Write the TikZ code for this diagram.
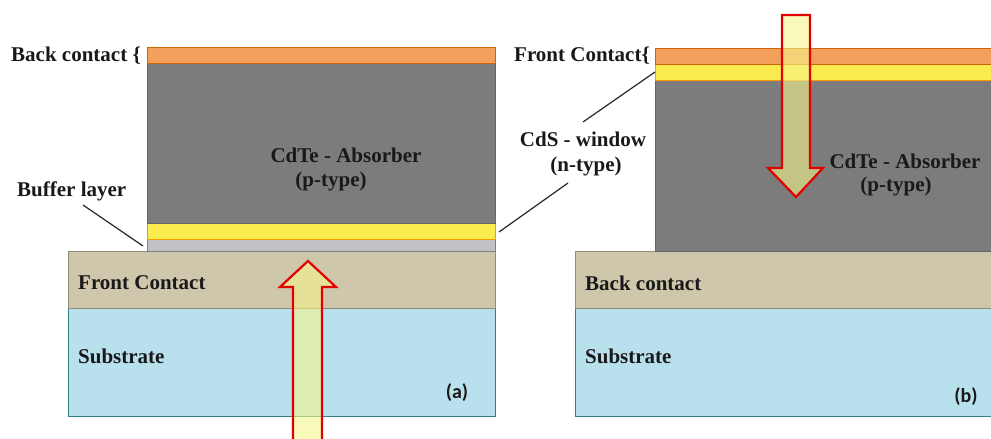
\documentclass[tikz,border=0pt]{standalone}
\usepackage{fontspec}
\setmainfont{Liberation Serif}
\newfontfamily\layerfont{Liberation Serif}[BoldFont={Liberation Serif Bold}]
\newfontfamily\tagfont{Carlito}[BoldFont={Carlito Bold}]
\usepackage{xcolor}
\usetikzlibrary{positioning}

\definecolor{contactorange}{RGB}{243,160,92}
\definecolor{absorbergray}{RGB}{124,124,124}
\definecolor{cdsyellow}{RGB}{250,236,78}
\definecolor{buffergray}{RGB}{192,192,198}
\definecolor{contacttan}{RGB}{207,199,172}
\definecolor{substrateblue}{RGB}{185,224,237}
\definecolor{beamyellow}{RGB}{245,245,140}

\begin{document}
\begin{tikzpicture}[
    x=1pt, y=-1pt,
    layer/.style={line width=0.6pt},
    lbl/.style={font=\layerfont\fontsize{21}{24}\selectfont\bfseries, text=black!90, inner sep=0pt},
    tag/.style={font=\tagfont\fontsize{20}{24}\selectfont\bfseries, text=black!90, inner sep=0pt},
    leader/.style={line width=1.2pt, black!85},
    beam/.style={draw=red!90!black, line width=2.2pt, fill=beamyellow, fill opacity=0.6, line join=miter}
]
    \useasboundingbox (0,0) rectangle (991,439);
    \clip (0,0) rectangle (991,439);

    % Left cell (a): superstrate layers
    \filldraw[layer, fill=substrateblue, draw=teal!60!gray] (68,308) rectangle (495,416);
    \filldraw[layer, fill=contacttan, draw=contacttan!70!black] (68,251) rectangle (495,308);
    \filldraw[layer, fill=buffergray, draw=gray] (147,239) rectangle (495,251);
    \filldraw[layer, fill=cdsyellow, draw=orange!80!yellow] (147,223) rectangle (495,239);
    \filldraw[layer, fill=absorbergray, draw=black!60] (147,63) rectangle (495,223);
    \filldraw[layer, fill=contactorange, draw=orange!80!black] (147,47) rectangle (495,63);

    % Right cell (b): substrate layers
    \filldraw[layer, fill=substrateblue, draw=teal!60!gray] (575,308) rectangle (999,416);
    \filldraw[layer, fill=contacttan, draw=contacttan!70!black] (575,251) rectangle (999,308);
    \filldraw[layer, fill=absorbergray, draw=black!60] (655,80) rectangle (999,251);
    \filldraw[layer, fill=cdsyellow, draw=orange!80!yellow] (655,64) rectangle (999,80);
    \filldraw[layer, fill=contactorange, draw=orange!80!black] (655,48) rectangle (999,64);

    % Light entering
    \filldraw[beam] (293,450) -- (293,287) -- (280,287) -- (308,261) -- (336,287)
        -- (322,287) -- (322,450) -- cycle;
    \filldraw[beam] (782,15) -- (810,15) -- (810,168) -- (823,168) -- (796,197)
        -- (768,168) -- (782,168) -- cycle;

    % Labels, left
    \node[lbl, anchor=west] (backa) at (11,56) {Back contact \{};
    \node[lbl, anchor=west] (bufl) at (17,191) {Buffer layer};
    \node[lbl] (absa) at (346,155) {CdTe - Absorber};
    \node[lbl] (absap) at (331,181) {(p-type)};
    \node[lbl, anchor=west] (fronta) at (78,283) {Front Contact};
    \node[lbl, anchor=west] (suba) at (78,356) {Substrate};
    \node[tag] (taga) at (457,393) {(a)};

    % Labels, middle and right
    \node[lbl] (cds) at (583,139) {CdS - window};
    \node[lbl] (cdsn) at (586,166) {(n-type)};
    \node[lbl, anchor=west] (frontb) at (514,56) {Front Contact\{};
    \node[lbl] (absb) at (905,161) {CdTe - Absorber};
    \node[lbl] (absbp) at (896,186) {(p-type)};
    \node[lbl, anchor=west] (backb) at (585,283) {Back contact};
    \node[lbl, anchor=west] (subb) at (585,356) {Substrate};
    \node[tag] (tagb) at (966,397) {(b)};

    % Leader lines
    \coordinate (buf-a) at (83,205);
    \coordinate (buf-b) at (143,246);
    \coordinate (cds-a) at (568,183);
    \coordinate (cds-b) at (499,232);
    \coordinate (cds-c) at (583,122);
    \coordinate (cds-d) at (655,72);
    \draw[leader] (buf-a) -- (buf-b);
    \draw[leader] (cds-a) -- (cds-b);
    \draw[leader] (cds-c) -- (cds-d);

\end{tikzpicture}
\end{document}
